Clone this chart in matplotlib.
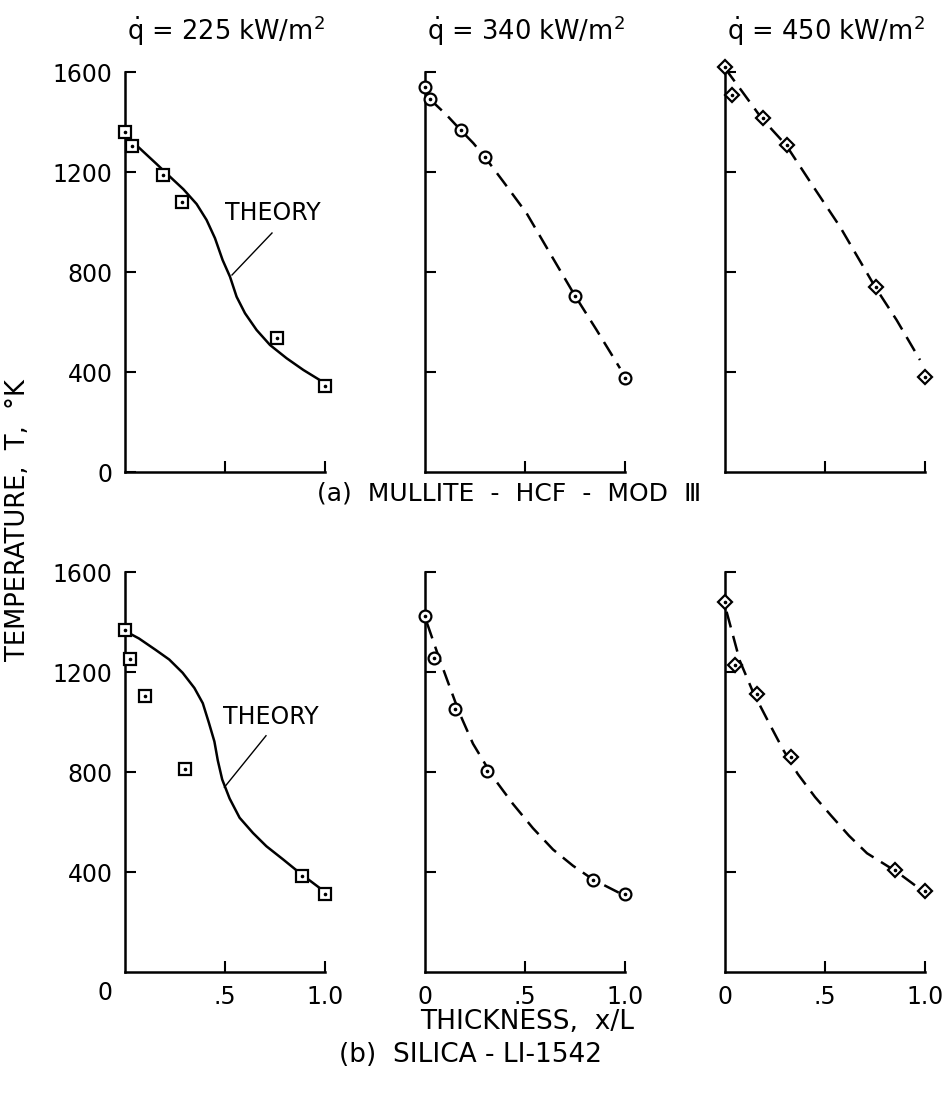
import matplotlib
matplotlib.use("Agg")
import matplotlib.pyplot as plt
import matplotlib.transforms as mtransforms

plt.rcParams.update({'font.size': 17, 'font.family': 'DejaVu Sans',
                     'mathtext.fontset': 'dejavusans'})

W, H = 946, 1093

heat_flux = ['225', '340', '450']

# (a) mullite - measured points
xa_sq = [0.0, 0.033, 0.19, 0.287, 0.76, 1.0]
Ta_sq = [1360, 1304, 1188, 1080, 536, 344]
xa_ci = [0.0, 0.025, 0.18, 0.30, 0.75, 1.0]
Ta_ci = [1540, 1492, 1368, 1260, 704, 376]
xa_di = [0.0, 0.035, 0.19, 0.31, 0.755, 1.0]
Ta_di = [1620, 1508, 1416, 1308, 740, 380]

# (a) theory + faired curves
xa_th = [0.033, 0.092, 0.158, 0.225, 0.292, 0.358, 0.408, 0.45, 0.488, 0.525,
         0.558, 0.60, 0.658, 0.725, 0.808, 0.892, 1.0]
Ta_th = [1325, 1281, 1232, 1181, 1131, 1072, 1008, 935, 848, 781,
         701, 635, 568, 508, 455, 408, 355]
xa_d2 = [0.025, 0.108, 0.178, 0.242, 0.30, 0.392, 0.508, 0.625, 0.75, 0.858, 0.975]
Ta_d2 = [1491, 1428, 1368, 1315, 1259, 1161, 1035, 875, 705, 568, 415]
xa_d3 = [0.0, 0.092, 0.183, 0.305, 0.442, 0.575, 0.75, 0.858, 0.975]
Ta_d3 = [1615, 1515, 1415, 1308, 1141, 981, 741, 608, 448]

# (b) silica - measured points
xb_sq = [0.0, 0.023, 0.10, 0.30, 0.883, 1.0]
Tb_sq = [1367, 1253, 1105, 811, 384, 312]
xb_ci = [0.0, 0.045, 0.15, 0.31, 0.84, 1.0]
Tb_ci = [1423, 1256, 1052, 805, 370, 312]
xb_di = [0.0, 0.05, 0.16, 0.33, 0.85, 1.0]
Tb_di = [1479, 1227, 1112, 860, 408, 325]

# (b) theory + faired curves
xb_th = [0.0, 0.070, 0.154, 0.221, 0.288, 0.347, 0.389, 0.419, 0.447, 0.464,
         0.486, 0.523, 0.573, 0.640, 0.707, 0.791, 0.874, 1.0]
Tb_th = [1364, 1334, 1288, 1250, 1197, 1136, 1075, 998, 922, 846,
         770, 694, 617, 556, 503, 450, 396, 320]
xb_d2 = [0.01, 0.06, 0.11, 0.17, 0.24, 0.34, 0.44, 0.54, 0.64, 0.74, 0.84, 0.97]
Tb_d2 = [1396, 1280, 1170, 1040, 913, 780, 672, 575, 490, 425, 370, 317]
xb_d3 = [0.008, 0.074, 0.14, 0.215, 0.29, 0.364, 0.45, 0.53, 0.62, 0.71, 0.86, 0.975]
Tb_d3 = [1441, 1245, 1120, 1004, 890, 792, 700, 626, 545, 475, 400, 332]

yticks = [0, 400, 800, 1200, 1600]

fig = plt.figure(figsize=(W / 100, H / 100), dpi=100)


def px_axes(left, top, w=200, h=400):
    return fig.add_axes([left / W, 1 - (top + h) / H, w / W, h / H])


def style(ax, col, row):
    ax.set_xlim(0, 1.0)
    ax.set_ylim(0, 1600)
    for s in ['top', 'right']:
        ax.spines[s].set_visible(False)
    for s in ['left', 'bottom']:
        ax.spines[s].set_linewidth(1.8)
    ax.set_xticks([0.5, 1.0])
    ax.tick_params(axis='both', direction='in', length=8, width=1.5, pad=9,
                   labelsize=17)
    if col == 0:
        if row == 0:
            ax.set_yticks(yticks)
            ax.set_yticklabels([str(v) for v in yticks])
        else:
            ax.set_yticks(yticks[1:])
            ax.set_yticklabels([str(v) for v in yticks[1:]])
    else:
        ax.set_yticks(yticks[1:])
        ax.set_yticklabels([])
    if row == 0:
        ax.set_xticklabels([])
    else:
        if col == 0:
            ax.set_xticklabels(['.5', '1.0'])
            tr = mtransforms.blended_transform_factory(ax.transData, ax.transAxes)
            ax.text(-0.1, -0.0525, '0', transform=tr, ha='center', va='center',
                    fontsize=17)
        else:
            ax.set_xticks([0.0, 0.5, 1.0])
            ax.set_xticklabels(['0', '.5', '1.0'])
            ax.xaxis.get_major_ticks()[0].tick1line.set_visible(False)


def pts(ax, x, y, marker, ms):
    ax.plot(x, y, linestyle='none', marker=marker, ms=ms, mfc='white',
            mec='black', mew=1.6, clip_on=False, zorder=3)
    ax.plot(x, y, linestyle='none', marker='o', ms=1.6, color='black',
            clip_on=False, zorder=4)


lefts = [125, 425, 725]
tops = [72, 572]
axes = [[px_axes(l, t) for l in lefts] for t in tops]
for r in range(2):
    for c in range(3):
        style(axes[r][c], c, r)

dash = (0, (6.5, 3.5))

ax = axes[0][0]
ax.plot(xa_th, Ta_th, color='black', lw=1.8, clip_on=False)
pts(ax, xa_sq, Ta_sq, 's', 9)
ax.text(0.74, 1036, 'THEORY', ha='center', va='center', fontsize=17)
ax.plot([0.735, 0.535], [956, 788], color='black', lw=1.0)

ax = axes[0][1]
ax.plot(xa_d2, Ta_d2, color='black', lw=1.8, linestyle=dash)
pts(ax, xa_ci, Ta_ci, 'o', 8.5)

ax = axes[0][2]
ax.plot(xa_d3, Ta_d3, color='black', lw=1.8, linestyle=dash, clip_on=False)
pts(ax, xa_di, Ta_di, 'D', 7)

ax = axes[1][0]
ax.plot(xb_th, Tb_th, color='black', lw=1.8, clip_on=False)
pts(ax, xb_sq, Tb_sq, 's', 9)
ax.text(0.73, 1021, 'THEORY', ha='center', va='center', fontsize=17)
ax.plot([0.705, 0.497], [945, 739], color='black', lw=1.0)

ax = axes[1][1]
ax.plot(xb_d2, Tb_d2, color='black', lw=1.8, linestyle=dash)
pts(ax, xb_ci, Tb_ci, 'o', 8.5)

ax = axes[1][2]
ax.plot(xb_d3, Tb_d3, color='black', lw=1.8, linestyle=dash)
pts(ax, xb_di, Tb_di, 'D', 7)

for c, q in enumerate(heat_flux):
    fig.text((lefts[c] + 101) / W, 1 - 40 / H,
             r'$\dot{\mathrm{q}}$ = ' + q + r' kW/m$^{2}$',
             ha='center', va='baseline', fontsize=18.5)

fig.text(509 / W, 1 - 493 / H, '(a)  MULLITE  -  HCF  -  MOD  \u2162',
         ha='center', va='center', fontsize=18)
fig.text(527 / W, 1 - 1022 / H, 'THICKNESS,  x/L',
         ha='center', va='center', fontsize=19)
fig.text(470 / W, 1 - 1055 / H, '(b)  SILICA - LI-1542',
         ha='center', va='center', fontsize=19)
fig.text(18 / W, 1 - 520 / H, 'TEMPERATURE,  T,  \u00b0K', rotation=90,
         ha='center', va='center', fontsize=18.5)

fig.savefig('out.png', dpi=100)
